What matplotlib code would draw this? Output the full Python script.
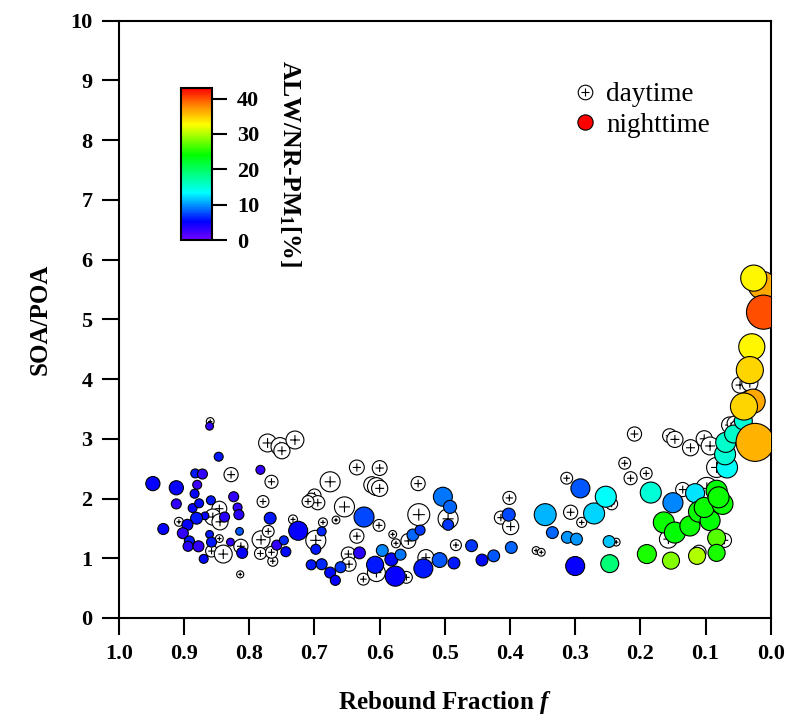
import numpy as np
import matplotlib
matplotlib.use('Agg')
import matplotlib.pyplot as plt
from matplotlib.path import Path
from matplotlib.lines import Line2D
from matplotlib.colors import LinearSegmentedColormap

plt.rcParams['font.family'] = 'Liberation Serif'
plt.rcParams['font.weight'] = 'bold'
plt.rcParams['mathtext.fontset'] = 'custom'
plt.rcParams['mathtext.rm'] = 'Liberation Serif:bold'
plt.rcParams['mathtext.it'] = 'Liberation Serif:italic:bold'
plt.rcParams['mathtext.bf'] = 'Liberation Serif:bold'

# nighttime points: rebound fraction, SOA/POA, ALW/NR-PM1 (%), OA mass
f_night = [0.861, 0.847, 0.948, 0.912, 0.883, 0.872, 0.880, 0.884, 0.912, 0.887,
           0.877, 0.859, 0.824, 0.818, 0.816, 0.838, 0.868, 0.881, 0.895, 0.902,
           0.932, 0.892, 0.894, 0.878, 0.861, 0.858, 0.815, 0.829, 0.811, 0.870,
           0.783, 0.768, 0.758, 0.747, 0.744, 0.725, 0.689, 0.698, 0.705, 0.689,
           0.676, 0.668, 0.660, 0.624, 0.631, 0.596, 0.582, 0.607, 0.576, 0.568,
           0.549, 0.538, 0.533, 0.508, 0.486, 0.503, 0.492, 0.495, 0.459, 0.443,
           0.425, 0.398, 0.402, 0.346, 0.335, 0.312, 0.298, 0.300, 0.292, 0.271,
           0.253, 0.248, 0.247, 0.184, 0.190, 0.153, 0.150, 0.116, 0.164, 0.147,
           0.124, 0.110, 0.093, 0.102, 0.083, 0.074, 0.080, 0.083, 0.083, 0.113,
           0.067, 0.070, 0.069, 0.057, 0.042, 0.027, 0.041, 0.029, 0.032, 0.024,
           0.013, 0.026, 0.011]
soa_night = [3.21, 2.70, 2.25, 2.18, 2.42, 2.41, 2.23, 2.08, 1.91, 1.84,
             1.92, 1.97, 2.03, 1.85, 1.73, 1.69, 1.71, 1.67, 1.56, 1.42,
             1.49, 1.29, 1.20, 1.20, 1.40, 1.27, 1.45, 1.27, 1.09, 0.99,
             2.48, 1.67, 1.22, 1.30, 1.11, 1.46, 1.45, 1.15, 0.89, 0.90,
             0.76, 0.63, 0.85, 1.69, 1.09, 1.13, 0.98, 0.89, 0.70, 1.06,
             1.39, 1.47, 0.83, 0.97, 0.92, 2.03, 1.86, 1.56, 1.21, 0.97,
             1.04, 1.18, 1.73, 1.73, 1.43, 1.35, 1.32, 0.87, 2.17, 1.75,
             2.03, 1.28, 0.91, 2.10, 1.07, 0.96, 1.93, 2.09, 1.60, 1.43,
             1.54, 1.78, 1.63, 1.85, 2.13, 1.91, 2.02, 1.34, 1.09, 1.04,
             2.52, 2.74, 2.94, 3.08, 3.30, 3.63, 3.54, 4.54, 4.15, 2.94,
             5.57, 5.69, 5.12]
alw_night = [3, 6, 5, 5, 6, 3, 2.5, 5, 3, 5,
             5.5, 6, 3, 3, 3.5, 3.5, 5, 6, 5, 3,
             5, 6, 3.5, 3, 6, 6, 8, 3, 5, 5.5,
             3, 6, 3, 6.5, 5.5, 5, 6.5, 6, 6, 6.5,
             5.5, 5, 7, 7.5, 3.5, 9.5, 5.5, 6, 5, 9,
             8.5, 7, 6, 8, 6, 9, 8.5, 7, 7, 5.5,
             8, 8.5, 7.5, 11, 8.5, 10, 10, 5, 8, 12,
             13.5, 11.5, 19, 15, 25, 28.5, 9.5, 12.5, 24.5, 24,
             24.5, 24.5, 24, 24.5, 24, 24.5, 24.5, 27, 25, 30,
             13.5, 15, 15.5, 15.5, 15, 36.5, 34.5, 33, 34.5, 36,
             36.5, 33, 40]
oa_night = [6, 8, 20, 20, 8, 10, 8, 8, 10, 8,
            8, 8, 10, 8, 10, 10, 6, 14, 12, 12,
            12, 10, 10, 12, 6, 10, 6, 6, 12, 8,
            8, 14, 10, 8, 10, 36, 8, 10, 10, 12,
            12, 10, 12, 40, 14, 14, 17, 29, 40, 12,
            14, 10, 36, 22, 14, 36, 17, 12, 14, 14,
            14, 14, 17, 48, 14, 14, 14, 36, 36, 44,
            44, 14, 32, 44, 36, 29, 40, 36, 44, 44,
            40, 44, 40, 40, 44, 44, 44, 32, 29, 29,
            44, 44, 40, 32, 32, 58, 73, 68, 73, 144,
            78, 68, 116]

# daytime points: rebound fraction, SOA/POA, OA mass
f_day = [0.860, 0.828, 0.766, 0.779, 0.772, 0.753, 0.750, 0.730, 0.908, 0.846,
         0.856, 0.845, 0.846, 0.858, 0.840, 0.813, 0.814, 0.782, 0.783, 0.771,
         0.764, 0.766, 0.733, 0.635, 0.600, 0.612, 0.605, 0.600, 0.541, 0.676,
         0.700, 0.705, 0.695, 0.710, 0.654, 0.540, 0.495, 0.601, 0.687, 0.667,
         0.698, 0.635, 0.580, 0.575, 0.556, 0.648, 0.647, 0.529, 0.483, 0.625,
         0.559, 0.605, 0.401, 0.414, 0.399, 0.313, 0.307, 0.244, 0.237, 0.360,
         0.352, 0.209, 0.224, 0.215, 0.191, 0.155, 0.147, 0.123, 0.102, 0.093,
         0.063, 0.056, 0.050, 0.047, 0.032, 0.135, 0.157, 0.110, 0.071, 0.083,
         0.098, 0.290]
soa_day = [3.29, 2.40, 2.28, 1.95, 2.93, 2.87, 2.80, 2.98, 1.61, 1.83,
           1.69, 1.61, 1.33, 1.12, 1.07, 1.20, 0.73, 1.31, 1.08, 1.45,
           0.95, 1.10, 1.65, 2.52, 2.51, 2.23, 2.20, 2.17, 2.25, 2.28,
           2.05, 1.98, 1.93, 1.95, 1.86, 1.73, 1.66, 1.55, 1.60, 1.64,
           1.30, 1.37, 1.40, 1.25, 1.29, 1.07, 0.90, 1.01, 1.22, 0.65,
           0.68, 0.76, 2.01, 1.68, 1.53, 2.34, 1.77, 1.91, 1.27, 1.13,
           1.10, 3.08, 2.59, 2.34, 2.42, 3.05, 2.99, 2.85, 3.00, 2.88,
           3.23, 3.26, 3.18, 3.90, 3.93, 2.15, 1.32, 1.10, 1.30, 2.52,
           2.17, 1.60]
oa_day = [6, 20, 17, 14, 32, 32, 26, 32, 8, 22,
          26, 26, 6, 14, 32, 20, 5, 32, 14, 14,
          10, 14, 8, 22, 22, 26, 32, 26, 20, 40,
          17, 17, 20, 14, 40, 48, 40, 14, 8, 6,
          40, 20, 6, 8, 22, 20, 20, 26, 12, 14,
          14, 32, 17, 17, 26, 14, 20, 14, 6, 6,
          6, 20, 14, 17, 14, 20, 26, 26, 26, 32,
          26, 20, 26, 26, 26, 20, 32, 20, 20, 40,
          48, 10]

alw_max = 43

rainbow = LinearSegmentedColormap.from_list('alw', [
    (0.00, (0.45, 0.0, 1.0)),
    (0.12, (0.0, 0.0, 1.0)),
    (0.31, (0.0, 1.0, 1.0)),
    (0.56, (0.0, 1.0, 0.0)),
    (0.76, (1.0, 1.0, 0.0)),
    (0.88, (1.0, 0.55, 0.0)),
    (1.00, (1.0, 0.0, 0.0))])

# open circle with a plus inside
circ = Path.unit_circle()
plus_v = [[-0.55, 0], [0.55, 0], [0, -0.55], [0, 0.55]]
plus_c = [Path.MOVETO, Path.LINETO, Path.MOVETO, Path.LINETO]
day_marker = Path(np.concatenate([circ.vertices, plus_v]),
                  np.concatenate([circ.codes, plus_c]))

fig = plt.figure(figsize=(7.89, 7.18), dpi=100)
ax = fig.add_axes([0.1508, 0.1393, 0.8260, 0.8319])

ax.scatter(f_day, soa_day, s=np.array(oa_day) * 5.2, marker=day_marker,
           facecolor='white', edgecolor='k', linewidths=0.8, zorder=2)
sc = ax.scatter(f_night, soa_night, s=np.array(oa_night) * 5.2, c=alw_night,
                cmap=rainbow, vmin=0, vmax=alw_max, edgecolor='k',
                linewidths=0.8, zorder=3)

ax.set_xlim(1.0, 0.0)
ax.set_ylim(0, 10)
ax.set_xticks(np.arange(0, 1.01, 0.1))
ax.set_xticklabels(['%.1f' % v for v in np.arange(0, 1.01, 0.1)])
ax.set_yticks(range(0, 11))
ax.tick_params(direction='out', length=12, width=1.5, labelsize=16, pad=7)
for sp in ax.spines.values():
    sp.set_linewidth(1.5)

ax.set_xlabel(r'Rebound Fraction $\mathit{f}$', fontsize=18, fontweight='bold')
ax.set_ylabel('SOA/POA', fontsize=18, fontweight='bold')
ax.xaxis.set_label_coords(0.5, -0.142)
ax.xaxis.label.set_va('center')
ax.yaxis.set_label_coords(-0.121, 0.5)
ax.yaxis.label.set_va('center')

# colorbar inset
cax = fig.add_axes([0.2294, 0.6657, 0.0393, 0.2117])
cb = fig.colorbar(sc, cax=cax, ticks=[0, 10, 20, 30, 40])
cb.outline.set_linewidth(1.5)
cax.tick_params(length=11, width=1.5, labelsize=16, pad=7)
cb.set_label(r'ALW/NR-PM$_1$[%]', rotation=-90, fontsize=18.5, fontweight='bold')
cax.yaxis.set_label_coords(3.52, 0.5)
cax.yaxis.label.set_va('center')
cax.yaxis.label.set_ha('center')

day_h = Line2D([], [], marker=day_marker, ls='', mfc='white', mec='k',
               mew=0.8, ms=10.5)
night_h = Line2D([], [], marker='o', ls='', mfc='red', mec='k',
                 mew=0.8, ms=11)
ax.legend([day_h, night_h], ['daytime', 'nighttime'], loc='upper left',
          bbox_to_anchor=(560.7 / 789, (718 - 71.5) / 718),
          bbox_transform=fig.transFigure, frameon=False,
          prop={'family': 'Liberation Serif', 'weight': 'normal', 'size': 19.5},
          handlelength=1.0, handletextpad=0.27, labelspacing=0.2,
          borderaxespad=0)

fig.savefig('out.png', dpi=100)
